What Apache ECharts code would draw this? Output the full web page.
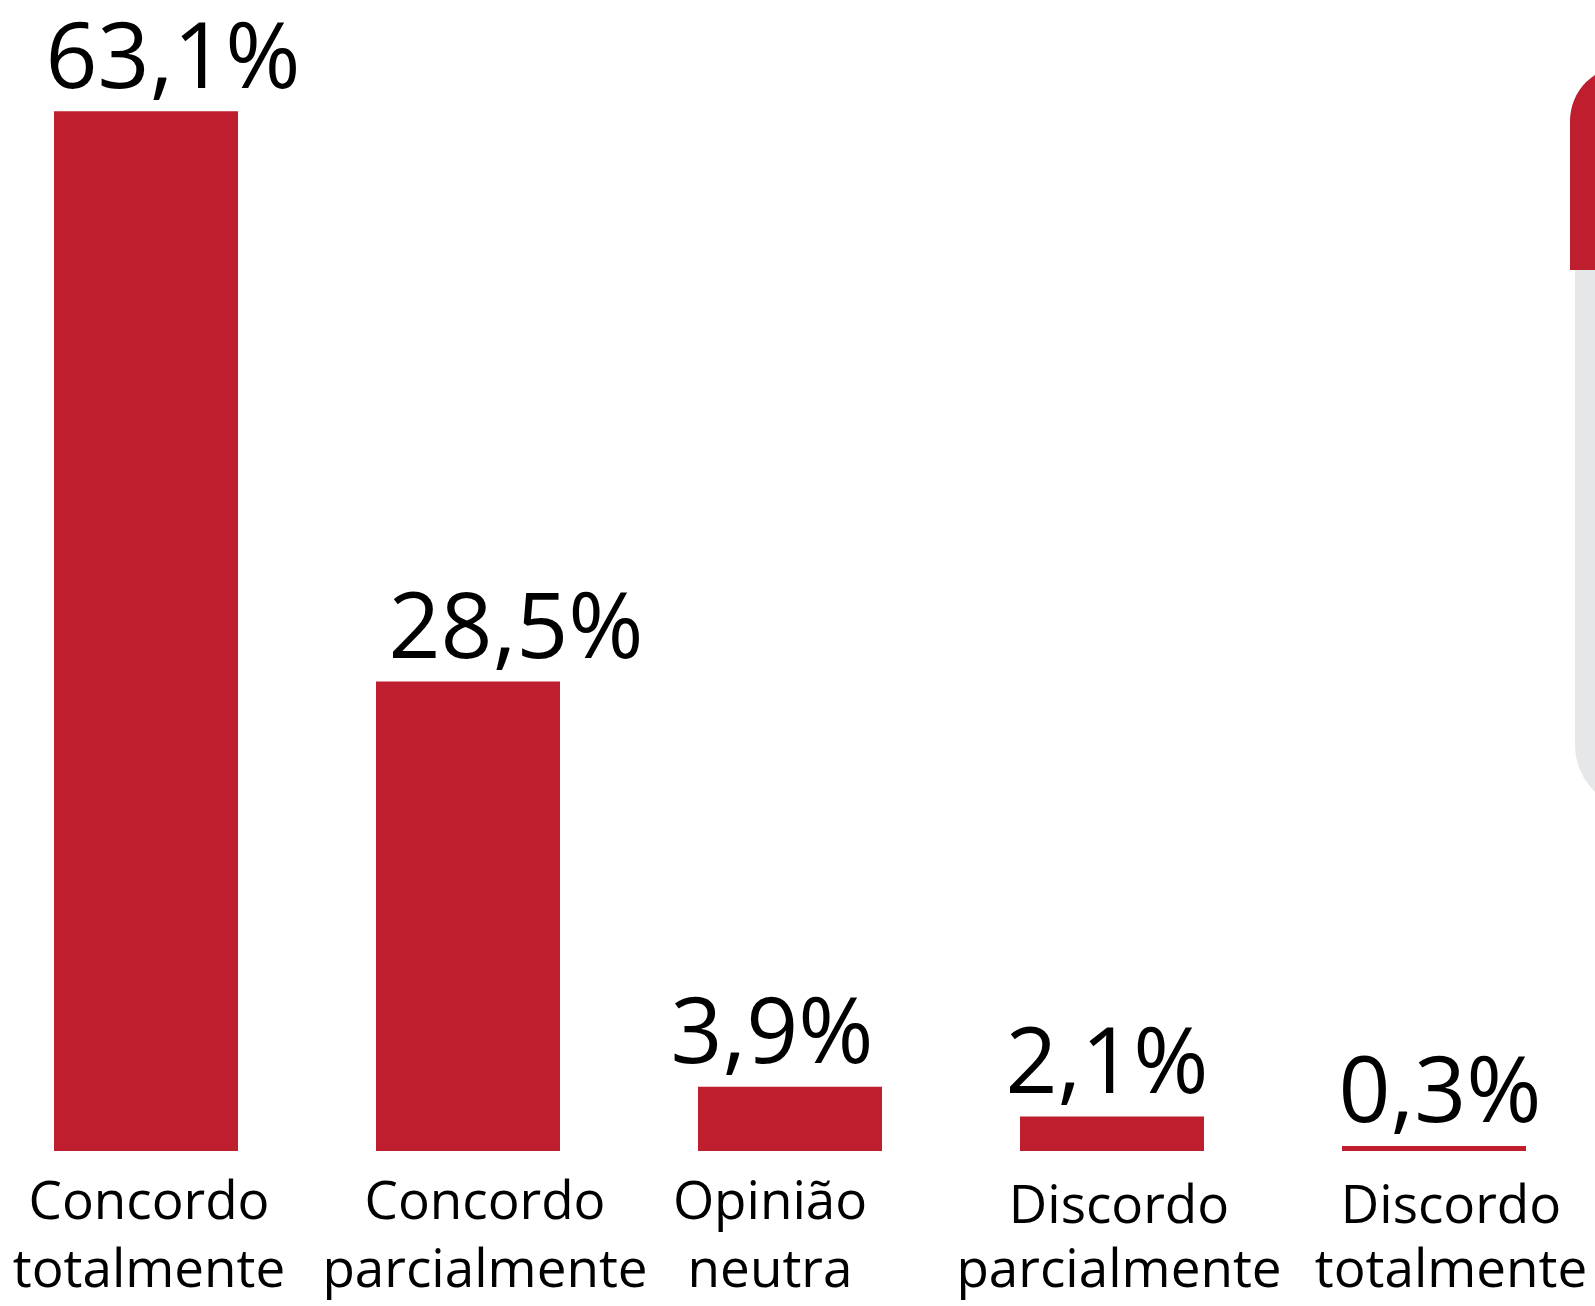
<!DOCTYPE html>
<html>
<head>
<meta charset="utf-8">
<style>
html,body{margin:0;padding:0;background:#ffffff;}
#chart{width:1595px;height:1306px;}
</style>
<script src="https://cdn.jsdelivr.net/npm/echarts@6/dist/echarts.min.js"></script>
</head>
<body>
<div id="chart"></div>
<script>
var categories = ['Concordo\ntotalmente', 'Concordo\nparcialmente', 'Opinião\nneutra', 'Discordo\nparcialmente', 'Discordo\ntotalmente'];
var values = [63.1, 28.5, 3.9, 2.1, 0.3];
var valueLabels = ['63,1%', '28,5%', '3,9%', '2,1%', '0,3%'];

var RED = '#BE1E2D';
var GRAY = '#E6E7E9';
var FONT = '"Open Sans", "Noto Sans", sans-serif';

// small horizontal nudges of texts (style only), px
var valueLabelShift = [27, 48, -18, -5, 6];
var catLabelShift = [3, 17, -20, 7, 17];
var catLabelDrop = [0, 0, 0, 7, 7];

var rich = {};
catLabelShift.forEach(function (s, i) {
  var padL = s > 0 ? 2 * s : 0, padR = s < 0 ? -2 * s : 0;
  rich['a' + i] = {fontFamily: FONT, fontSize: 53, lineHeight: 68, color: '#000', padding: [catLabelDrop[i], padR, 0, padL]};
  rich['b' + i] = {fontFamily: FONT, fontSize: 53, lineHeight: 68, color: '#000', padding: [0, padR, 0, padL]};
});

var chart = echarts.init(document.getElementById('chart'), null, {renderer: 'canvas'});
chart.setOption({
  backgroundColor: '#ffffff',
  animation: false,
  grid: {left: 146, right: 161, top: 80, bottom: 150, containLabel: false},
  xAxis: {
    type: 'category',
    data: categories,
    boundaryGap: false,
    axisLine: {show: false},
    axisTick: {show: false},
    splitLine: {show: false},
    axisLabel: {
      interval: 0,
      margin: 19,
      color: '#000000',
      fontFamily: FONT,
      fontSize: 53,
      lineHeight: 68,
      formatter: function (v, i) {
        var parts = v.split('\n');
        return '{a' + i + '|' + parts[0] + '}\n{b' + i + '|' + parts[1] + '}';
      },
      rich: rich
    }
  },
  yAxis: {
    type: 'value',
    min: 0,
    max: 65,
    show: false,
    splitLine: {show: false}
  },
  series: [{
    type: 'bar',
    data: values.map(function (v, i) {
      return {value: v, label: {offset: [valueLabelShift[i], 0]}};
    }),
    barWidth: 184,
    itemStyle: {color: RED},
    label: {
      show: true,
      position: 'top',
      distance: 4,
      color: '#000000',
      fontFamily: FONT,
      fontSize: 91,
      lineHeight: 91,
      formatter: function (p) { return valueLabels[p.dataIndex]; }
    }
  }],
  graphic: [
    {type: 'rect', silent: true, shape: {x: 1570, y: 66, width: 120, height: 204, r: [55, 0, 0, 0]}, style: {fill: RED}},
    {type: 'rect', silent: true, shape: {x: 1575, y: 270, width: 120, height: 540, r: [0, 0, 0, 65]}, style: {fill: GRAY}}
  ]
});
</script>
</body>
</html>
